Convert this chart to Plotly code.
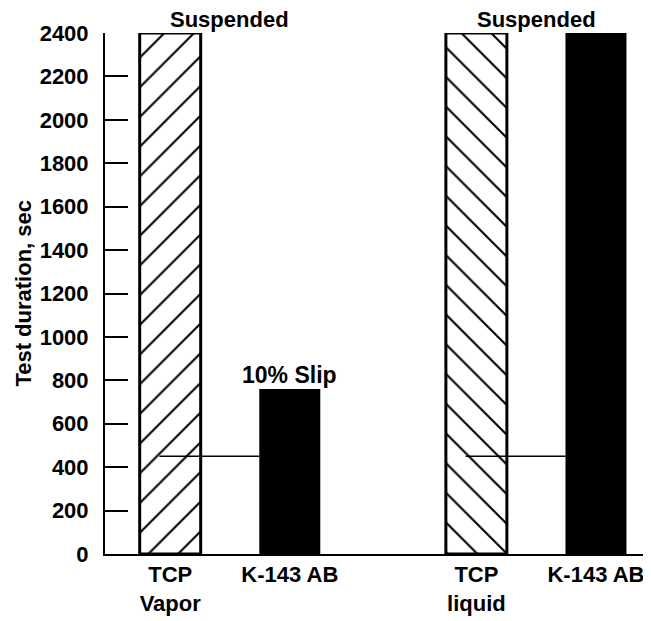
import plotly.graph_objects as go

# ---- data ----
fluids = ["TCP", "K-143 AB", "TCP", "K-143 AB"]
conditions = ["Vapor", "", "liquid", ""]
group_index = [0, 0, 1, 1]
member_index = [0, 1, 0, 1]
durations = [2400, 760, 2400, 2400]
bar_labels = ["", "10% Slip", "", ""]
group_labels = ["Suspended", "Suspended"]
reference_level = [450, 450]
y_ticks = [0, 200, 400, 600, 800, 1000, 1200, 1400, 1600, 1800, 2000, 2200, 2400]

GROUP_GAP = 2.56
BAR_W = 0.51
xpos = [g * GROUP_GAP + m for g, m in zip(group_index, member_index)]

FONT = dict(family="Liberation Sans, Arial, sans-serif", color="black", weight="bold")

fig = go.Figure()

patterns = {0: "/", 1: "\\"}
for i in range(len(fluids)):
    if member_index[i] == 0:
        marker = dict(color="white",
                      line=dict(color="black", width=3),
                      pattern=dict(shape=patterns[group_index[i]], fgcolor="black",
                                   fgopacity=1, bgcolor="white", size=21, solidity=0.1,
                                   fillmode="overlay"))
    else:
        marker = dict(color="black", line=dict(color="black", width=0))
    fig.add_trace(go.Bar(x=[xpos[i]], y=[durations[i]], width=BAR_W,
                         marker=marker, showlegend=False, hoverinfo="skip"))

# reference lines at ~450 s spanning from TCP bar to K-143 bar
for g in range(2):
    tcp_x = [x for x, gi, m in zip(xpos, group_index, member_index) if gi == g and m == 0][0]
    k_x = [x for x, gi, m in zip(xpos, group_index, member_index) if gi == g and m == 1][0]
    fig.add_trace(go.Scatter(x=[tcp_x - 0.09, k_x - BAR_W / 2], y=[reference_level[g]] * 2,
                             mode="lines", line=dict(color="black", width=1.5),
                             showlegend=False, hoverinfo="skip"))

annotations = []
for g in range(2):
    gx = g * GROUP_GAP + 0.5
    annotations.append(dict(x=gx, y=max(durations), xref="x", yref="y", text=group_labels[g],
                            showarrow=False, yanchor="bottom", yshift=-1,
                            font=dict(size=22, **FONT)))
for i, t in enumerate(bar_labels):
    if t:
        annotations.append(dict(x=xpos[i], y=durations[i], xref="x", yref="y", text=t,
                                showarrow=False, yanchor="bottom", yshift=-1,
                                font=dict(size=23, **FONT)))
annotations.append(dict(x=-0.15, y=0.5, xref="paper", yref="paper",
                        text="Test duration, sec", textangle=-90, showarrow=False,
                        xanchor="center", yanchor="middle",
                        font=dict(size=22, **FONT)))

ticktext = [f + ("<br>" + c if c else "") for f, c in zip(fluids, conditions)]

fig.update_layout(
    width=651, height=621,
    margin=dict(l=97, r=8, t=25, b=75),
    paper_bgcolor="white", plot_bgcolor="white",
    barmode="overlay",
    annotations=annotations,
    xaxis=dict(range=[-0.545, 4.02], tickvals=xpos, ticktext=ticktext,
               showline=True, linecolor="black", linewidth=2, ticks="",
               showgrid=False, zeroline=False,
               tickfont=dict(size=22, **FONT)),
    yaxis=dict(range=[0, 2400], tickvals=y_ticks, ticks="inside", ticklen=23,
               tickwidth=1.5, tickcolor="black",
               showline=True, linecolor="black", linewidth=2,
               showgrid=False, zeroline=False, ticklabelstandoff=10,
               tickfont=dict(size=22, **FONT)),
)

fig.write_html("out.html")
